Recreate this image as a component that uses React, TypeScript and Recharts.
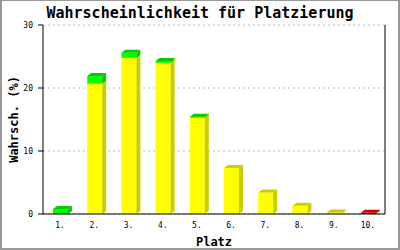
import React from 'react';
import { BarChart, Bar, XAxis, YAxis, CartesianGrid, Label } from 'recharts';

const places = ['1.', '2.', '3.', '4.', '5.', '6.', '7.', '8.', '9.', '10.'];
const yellowShare = [0, 20.7, 24.8, 24.0, 15.3, 7.3, 3.4, 1.3, 0.25, 0];
const greenShare = [0.8, 1.2, 0.8, 0.3, 0.12, 0, 0, 0, 0, 0];
const redShare = [0, 0, 0, 0, 0, 0, 0, 0, 0, 0.2];
const yTicks = [0, 10, 20, 30];

const data = places.map((platz, i) => ({
  platz,
  gelb: yellowShare[i],
  gruen: greenShare[i],
  rot: redShare[i],
}));

const MONO = '"DejaVu Sans Mono", "Liberation Mono", monospace';
const DX = 4;
const DY = 3;

// front face + side + top, like the old 3d bar look
function box3d(front: string, dark: string) {
  return (props: any) => {
    const { x, y, width, height } = props;
    if (!height || height <= 0) return <g />;
    const r = x + width;
    const b = y + height;
    return (
      <g>
        <rect x={x} y={y} width={width} height={height} fill={front} />
        <polygon points={`${r},${y} ${r + DX},${y - DY} ${r + DX},${b - DY} ${r},${b}`} fill={dark} />
        <polygon points={`${x},${y} ${x + DX},${y - DY} ${r + DX},${y - DY} ${r},${y}`} fill={dark} />
      </g>
    );
  };
}

export default function App() {
  return (
    <div style={{ position: 'relative', width: 400, height: 250, background: '#fff', fontFamily: MONO }}>
      <style>{'body{margin:0}'}</style>
      <BarChart
        width={400}
        height={250}
        data={data}
        margin={{ top: 25, right: 0, left: 0, bottom: 0 }}
        barSize={15}
        style={{ fontFamily: MONO }}
      >
        <CartesianGrid vertical={false} stroke="#bbb" strokeDasharray="2 3" />
        <XAxis
          dataKey="platz"
          height={36}
          tickLine={false}
          axisLine={{ stroke: '#000' }}
          tickSize={0}
          tickMargin={8}
          tick={{ fontSize: 8, fill: '#000', fontFamily: MONO }}
        >
          <Label
            value="Platz"
            position="insideBottom"
            offset={4}
            style={{ fontSize: 12, fontWeight: 'bold', fill: '#000', fontFamily: MONO }}
          />
        </XAxis>
        <YAxis
          width={43}
          domain={[0, 30]}
          ticks={yTicks}
          interval={0}
          tickSize={5}
          tickMargin={5}
          tickLine={{ stroke: '#000' }}
          axisLine={{ stroke: '#000' }}
          tick={{ fontSize: 8, fill: '#000', fontFamily: MONO }}
        >
          <Label
            value="Wahrsch. (%)"
            angle={-90}
            position="insideLeft"
            offset={14}
            style={{ fontSize: 12, fontWeight: 'bold', fill: '#000', fontFamily: MONO, textAnchor: 'middle' }}
          />
        </YAxis>
        <YAxis
          yAxisId="right"
          orientation="right"
          width={15}
          domain={[0, 30]}
          tick={false}
          tickLine={false}
          axisLine={{ stroke: '#000' }}
        />
        <Bar dataKey="gelb" stackId="a" shape={box3d('#ffff00', '#cccc00')} isAnimationActive={false} />
        <Bar dataKey="gruen" stackId="a" shape={box3d('#00ff00', '#00cc00')} isAnimationActive={false} />
        <Bar dataKey="rot" stackId="a" shape={box3d('#ee0000', '#cc0000')} isAnimationActive={false} />
      </BarChart>
      <div
        style={{
          position: 'absolute',
          left: 0,
          top: 4,
          width: 400,
          textAlign: 'center',
          fontSize: 15,
          fontWeight: 'bold',
          lineHeight: '18px',
          color: '#000',
        }}
      >
        Wahrscheinlichkeit für Platzierung
      </div>
      <div
        style={{
          position: 'absolute',
          inset: 0,
          boxSizing: 'border-box',
          borderStyle: 'solid',
          borderColor: '#999',
          borderWidth: '1px 2px 2px 2px',
          pointerEvents: 'none',
        }}
      />
    </div>
  );
}
